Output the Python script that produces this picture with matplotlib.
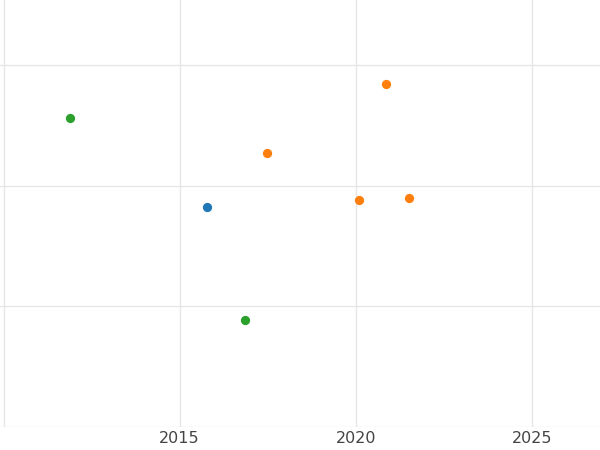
import matplotlib.pyplot as plt

blue_x = [2015.77]
blue_y = [1.82]
orange_x = [2017.47, 2020.85, 2020.09, 2021.51]
orange_y = [2.27, 2.84, 1.88, 1.90]
green_x = [2011.88, 2016.85]
green_y = [2.56, 0.89]

fig = plt.figure(figsize=(6, 4.5), dpi=100)
ax = fig.add_axes([0, 23/450, 1, 427/450])

ax.scatter(blue_x, blue_y, color='#1f77b4', s=32, zorder=3)
ax.scatter(orange_x, orange_y, color='#ff7f0e', s=32, zorder=3)
ax.scatter(green_x, green_y, color='#2ca02c', s=32, zorder=3)

ax.set_xlim(2009.9, 2026.93)
ax.set_ylim(0, 3.54)
ax.set_xticks([2010, 2015, 2020, 2025])
ax.set_xticklabels(['', '2015', '2020', '2025'])
ax.set_yticks([0, 1, 2, 3])
ax.set_yticklabels([])
ax.grid(True, color='#e6e6e6', linewidth=1)
ax.set_axisbelow(True)
ax.tick_params(length=0, labelsize=11.5, labelcolor='#444444', pad=3)
for s in ax.spines.values():
    s.set_visible(False)

fig.savefig('out.png', dpi=100)
